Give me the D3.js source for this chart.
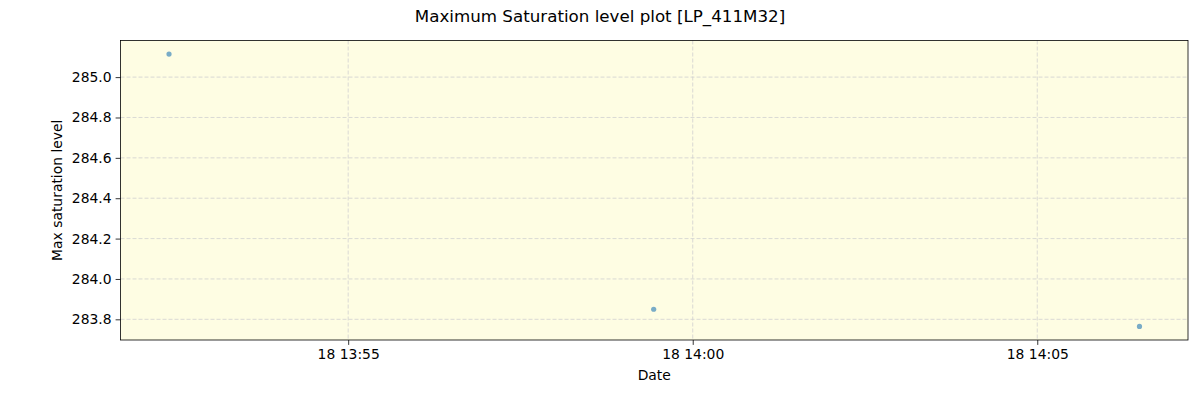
<!DOCTYPE html>
<html>
<head>
<meta charset="utf-8">
<script src="https://cdn.jsdelivr.net/npm/d3@7"></script>
<style>
body { margin: 0; background: #fff; }
text { font-family: "DejaVu Sans", sans-serif; }
</style>
</head>
<body>
<script>
// data
var times = ["2024-01-18T13:52:24", "2024-01-18T13:59:26", "2024-01-18T14:06:29"];
var levels = [285.114, 283.85, 283.765];
var yTicks = [283.8, 284.0, 284.2, 284.4, 284.6, 284.8, 285.0];
var xTicks = ["2024-01-18T13:55:00", "2024-01-18T14:00:00", "2024-01-18T14:05:00"];

var width = 1200, height = 400;
var margin = {top: 40.5, right: 12, bottom: 60, left: 120.5};

var parse = d3.timeParse("%Y-%m-%dT%H:%M:%S");
var points = times.map(function (t, i) { return {date: parse(t), value: levels[i]}; });

var svg = d3.select("body").append("svg")
    .attr("width", width)
    .attr("height", height);

// 5% padding like matplotlib
var tExt = d3.extent(points, function (d) { return +d.date; });
var tPad = (tExt[1] - tExt[0]) * 0.05;
var vExt = d3.extent(levels);
var vPad = (vExt[1] - vExt[0]) * 0.05;

var xScale = d3.scaleTime()
    .domain([new Date(tExt[0] - tPad), new Date(tExt[1] + tPad)])
    .range([margin.left, width - margin.right]);
var yScale = d3.scaleLinear()
    .domain([vExt[0] - vPad, vExt[1] + vPad])
    .range([height - margin.bottom, margin.top]);

// plot background
svg.append("rect")
    .attr("x", margin.left)
    .attr("y", margin.top)
    .attr("width", width - margin.right - margin.left)
    .attr("height", height - margin.bottom - margin.top)
    .attr("fill", "#fefde3");

var xTickDates = xTicks.map(parse);

// grid
var grid = svg.append("g");
grid.selectAll(".vgrid").data(xTickDates).enter().append("line")
    .attr("x1", function (d) { return xScale(d); })
    .attr("x2", function (d) { return xScale(d); })
    .attr("y1", margin.top)
    .attr("y2", height - margin.bottom)
    .attr("stroke", "#d0d0d0")
    .attr("stroke-width", 0.8)
    .attr("stroke-dasharray", "4,2");
grid.selectAll(".hgrid").data(yTicks).enter().append("line")
    .attr("x1", margin.left)
    .attr("x2", width - margin.right)
    .attr("y1", function (d) { return yScale(d); })
    .attr("y2", function (d) { return yScale(d); })
    .attr("stroke", "#d0d0d0")
    .attr("stroke-width", 0.8)
    .attr("stroke-dasharray", "4,2");

// dots
svg.selectAll(".dot").data(points).enter().append("circle")
    .attr("class", "dot")
    .attr("cx", function (d) { return xScale(d.date); })
    .attr("cy", function (d) { return yScale(d.value); })
    .attr("r", 2.6)
    .style("fill", "#1f77b4")
    .style("opacity", 0.6);

// axes
var fmt = d3.timeFormat("%d %H:%M");
var xAxis = svg.append("g")
    .attr("transform", "translate(0," + (height - margin.bottom) + ")")
    .call(d3.axisBottom(xScale).tickValues(xTickDates).tickFormat(fmt).tickSize(4.9).tickPadding(4));
var yAxis = svg.append("g")
    .attr("transform", "translate(" + margin.left + ",0)")
    .call(d3.axisLeft(yScale).tickValues(yTicks).tickFormat(d3.format(".1f")).tickSize(4.9).tickPadding(4));

[xAxis, yAxis].forEach(function (a) {
    a.select(".domain").remove();
    a.selectAll("text").style("font-size", "13.9px").attr("fill", "#000")
        .style("font-family", "DejaVu Sans, sans-serif");
    a.selectAll("line").attr("stroke", "#000").attr("stroke-width", 0.8);
});

// frame
svg.append("rect")
    .attr("x", margin.left)
    .attr("y", margin.top)
    .attr("width", width - margin.right - margin.left)
    .attr("height", height - margin.bottom - margin.top)
    .attr("fill", "none")
    .attr("stroke", "#000")
    .attr("stroke-width", 0.8);

// labels
svg.append("text")
    .attr("x", width / 2)
    .attr("y", 22)
    .attr("text-anchor", "middle")
    .style("font-size", "16.7px")
    .text("Maximum Saturation level plot [LP_411M32]");
svg.append("text")
    .attr("x", (margin.left + width - margin.right) / 2)
    .attr("y", 380)
    .attr("text-anchor", "middle")
    .style("font-size", "13.9px")
    .text("Date");
svg.append("text")
    .attr("transform", "translate(62," + ((margin.top + height - margin.bottom) / 2) + ") rotate(-90)")
    .attr("text-anchor", "middle")
    .style("font-size", "13.9px")
    .text("Max saturation level");
</script>
</body>
</html>
